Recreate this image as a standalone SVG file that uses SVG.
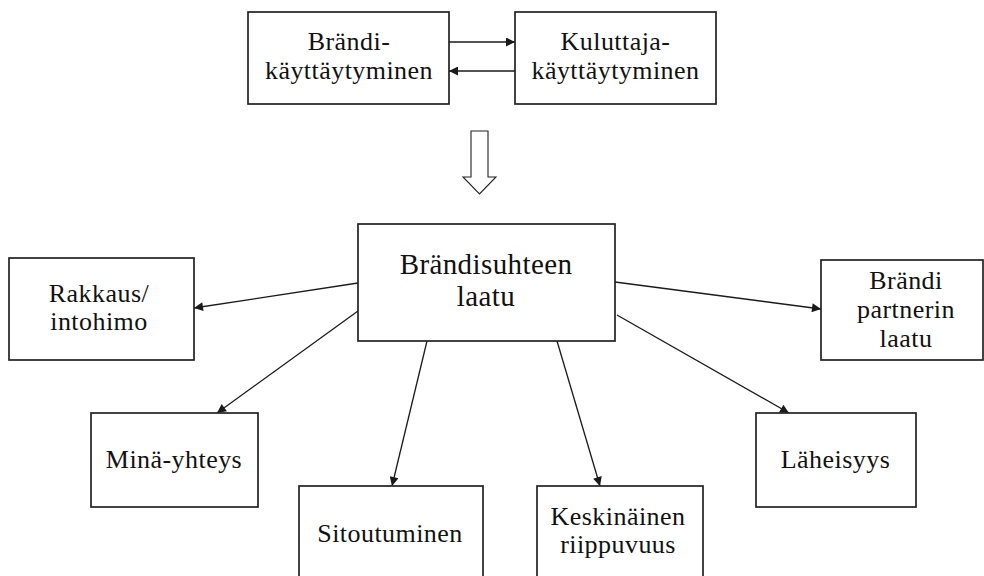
<svg xmlns="http://www.w3.org/2000/svg" width="984" height="576" viewBox="0 0 984 576">
  <style>
    .box { fill: #ffffff; stroke: #222222; stroke-width: 1.7; }
    .lbl { font-family: "Liberation Serif", "Times New Roman", serif; font-size: 26px; fill: #111111; text-anchor: middle; letter-spacing: 0.45px; }
    .big { font-size: 29px; letter-spacing: 0.4px; }
    .edge { fill: none; stroke: #1a1a1a; stroke-width: 1.3; marker-end: url(#head); }
  </style>
  <defs>
    <marker id="head" viewBox="0 0 10 10" refX="10" refY="5" markerWidth="11" markerHeight="9" markerUnits="userSpaceOnUse" orient="auto">
      <path d="M0,0 L10,5 L0,10 z" fill="#1a1a1a"/>
    </marker>
  </defs>
  <rect width="984" height="576" fill="#ffffff"/>

  <g id="connectors">
    <line class="edge" x1="449" y1="42" x2="515" y2="42"/>
    <line class="edge" x1="515" y1="71" x2="449" y2="71"/>
    <polygon points="471,131 488,131 488,177 496,177 479.5,194 463,177 471,177" fill="#ffffff" stroke="#222222" stroke-width="1.1"/>
    <line class="edge" x1="358" y1="283" x2="194" y2="308"/>
    <line class="edge" x1="615" y1="282" x2="821" y2="309"/>
    <line class="edge" x1="358" y1="311" x2="217" y2="413"/>
    <line class="edge" x1="427" y1="341" x2="392" y2="486"/>
    <line class="edge" x1="557" y1="341" x2="600" y2="486"/>
    <line class="edge" x1="617" y1="315" x2="789" y2="413"/>
  </g>

  <g id="brandikayttaytyminen">
    <rect class="box" x="248" y="12" width="201" height="92"/>
    <text class="lbl" x="349" y="50">Brändi-</text>
    <text class="lbl" x="349" y="79">käyttäytyminen</text>
  </g>

  <g id="kuluttajakayttaytyminen">
    <rect class="box" x="515" y="12" width="201" height="92"/>
    <text class="lbl" x="615.5" y="50">Kuluttaja-</text>
    <text class="lbl" x="615.5" y="79">käyttäytyminen</text>
  </g>

  <g id="brandisuhteen-laatu">
    <rect class="box" x="358" y="224" width="257" height="117"/>
    <text class="lbl big" x="486" y="274">Brändisuhteen</text>
    <text class="lbl big" x="486" y="306">laatu</text>
  </g>

  <g id="rakkaus">
    <rect class="box" x="9" y="258" width="185" height="102"/>
    <text class="lbl" x="99" y="302">Rakkaus/</text>
    <text class="lbl" x="99" y="330">intohimo</text>
  </g>

  <g id="brandi-partnerin-laatu">
    <rect class="box" x="821" y="260" width="162" height="100"/>
    <text class="lbl" x="906" y="289">Brändi</text>
    <text class="lbl" x="906" y="318">partnerin</text>
    <text class="lbl" x="906" y="347">laatu</text>
  </g>

  <g id="mina-yhteys">
    <rect class="box" x="91" y="413" width="167" height="94"/>
    <text class="lbl" x="174" y="468">Minä-yhteys</text>
  </g>

  <g id="sitoutuminen">
    <rect class="box" x="299" y="486" width="184" height="110"/>
    <text class="lbl" x="390" y="542">Sitoutuminen</text>
  </g>

  <g id="keskinainen-riippuvuus">
    <rect class="box" x="537" y="486" width="166" height="110"/>
    <text class="lbl" x="618" y="525">Keskinäinen</text>
    <text class="lbl" x="618" y="553">riippuvuus</text>
  </g>

  <g id="laheisyys">
    <rect class="box" x="756" y="413" width="160" height="94"/>
    <text class="lbl" x="835.5" y="468">Läheisyys</text>
  </g>
</svg>
